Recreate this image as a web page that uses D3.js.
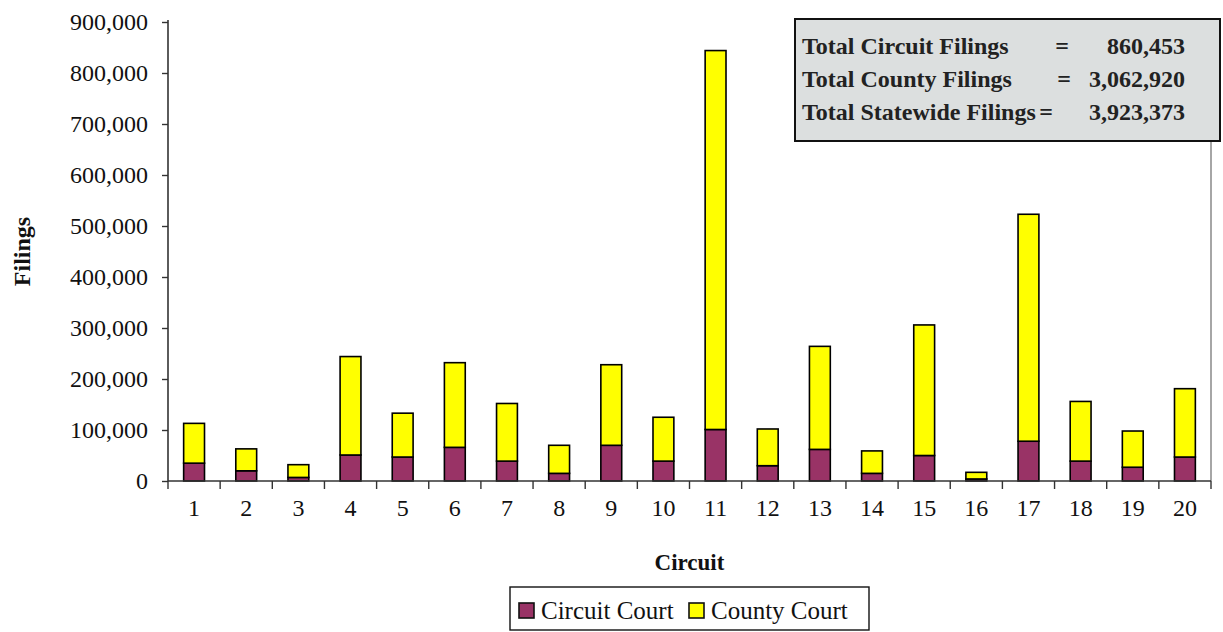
<!DOCTYPE html>
<html>
<head>
<meta charset="utf-8">
<script src="https://cdn.jsdelivr.net/npm/d3@7"></script>
<style>
  html, body { margin: 0; padding: 0; background: #fff; }
  svg { display: block; font-family: "Liberation Serif", "Times New Roman", serif; }
</style>
</head>
<body>
<div id="chart"></div>
<script>
// datos
var circuits = ['1','2','3','4','5','6','7','8','9','10','11','12','13','14','15','16','17','18','19','20'];
var circuitCourt = [35000, 20000, 7000, 51000, 47000, 66000, 39000, 15000, 70000, 39000,
                    101000, 30000, 62000, 15000, 50000, 4000, 78000, 39000, 27000, 47000];
var countyCourt = [78000, 43000, 25000, 193000, 86000, 166000, 113000, 55000, 158000, 86000,
                   743000, 72000, 202000, 44000, 256000, 13000, 445000, 117000, 71000, 134000];
var seriesNames = ['Circuit Court', 'County Court'];
var seriesColors = ['#993366', '#ffff00'];
var yTicks = [0, 100000, 200000, 300000, 400000, 500000, 600000, 700000, 800000, 900000];
var totalsLabels = ['Total Circuit Filings', 'Total County Filings', 'Total Statewide Filings'];
var totalsValues = ['860,453', '3,062,920', '3,923,373'];

var FONT = '"Liberation Serif", "Times New Roman", serif';
var W = 1223, H = 632;
var margin = {top: 22, right: 12, bottom: 151, left: 168};
var width = W - margin.left - margin.right;
var height = H - margin.top - margin.bottom;

var svg = d3.select('#chart').append('svg')
  .attr('width', W)
  .attr('height', H);

var g = svg.append('g')
  .attr('transform', 'translate(' + margin.left + ',' + margin.top + ')');

// tabla para el stack
var table = circuits.map(function(c, i) {
  return {circuit: c, 'Circuit Court': circuitCourt[i], 'County Court': countyCourt[i]};
});
var stacked = d3.stack().keys(seriesNames)(table);

var xScale = d3.scaleBand()
  .domain(circuits)
  .range([0, width])
  .padding(0);

var yScale = d3.scaleLinear()
  .domain([0, 900000])
  .range([height, 0]);

// borde del area del grafico (gris)
g.append('line')
  .attr('x1', width).attr('x2', width)
  .attr('y1', 0).attr('y2', height)
  .attr('stroke', '#a6a6a6')
  .attr('stroke-width', 2);

// barras apiladas
var barW = xScale.bandwidth() * 0.4;
g.selectAll('.serie')
  .data(stacked)
  .enter().append('g')
    .attr('class', 'serie')
    .attr('fill', function(d, i) { return seriesColors[i]; })
  .selectAll('rect')
  .data(function(d) { return d; })
  .enter().append('rect')
    .attr('x', function(d) { return xScale(d.data.circuit) + (xScale.bandwidth() - barW) / 2; })
    .attr('y', function(d) { return yScale(d[1]); })
    .attr('width', barW)
    .attr('height', function(d) { return yScale(d[0]) - yScale(d[1]); })
    .attr('stroke', '#000')
    .attr('stroke-width', 1.6);

// eje Y
var yAxis = d3.axisLeft(yScale)
  .tickValues(yTicks)
  .tickSize(6)
  .tickPadding(14)
  .tickFormat(d3.format(','));
var yAxisG = g.append('g').attr('class', 'y-axis').call(yAxis)
  .attr('font-family', FONT);
yAxisG.select('.domain').remove();
yAxisG.append('line')
  .attr('x1', 0).attr('x2', 0).attr('y1', -2).attr('y2', height)
  .attr('stroke', '#333').attr('stroke-width', 1.6);
yAxisG.selectAll('.tick line').attr('stroke', '#333').attr('stroke-width', 1.4);
yAxisG.selectAll('text')
  .attr('font-size', 24)
  .attr('fill', '#111');

// eje X, marcas en los bordes de cada categoria
var xAxisG = g.append('g')
  .attr('class', 'x-axis')
  .attr('transform', 'translate(0,' + height + ')');
xAxisG.append('line')
  .attr('x1', 0).attr('x2', width)
  .attr('stroke', '#333').attr('stroke-width', 1.6);
var edges = circuits.map(function(c) { return xScale(c); }).concat([width]);
xAxisG.selectAll('.xtick')
  .data(edges)
  .enter().append('line')
    .attr('class', 'xtick')
    .attr('x1', function(d) { return d; })
    .attr('x2', function(d) { return d; })
    .attr('y1', 0).attr('y2', 8)
    .attr('stroke', '#333').attr('stroke-width', 1.4);
xAxisG.selectAll('.xlabel')
  .data(circuits)
  .enter().append('text')
    .attr('class', 'xlabel')
    .attr('x', function(d) { return xScale(d) + xScale.bandwidth() / 2; })
    .attr('y', 35)
    .attr('text-anchor', 'middle')
    .attr('font-size', 24)
    .attr('fill', '#111')
    .text(function(d) { return d; });

// titulos de ejes
svg.append('text')
  .attr('x', margin.left + width / 2)
  .attr('y', 570)
  .attr('text-anchor', 'middle')
  .attr('font-size', 23)
  .attr('font-weight', 'bold')
  .attr('fill', '#111')
  .text('Circuit');

svg.append('text')
  .attr('transform', 'translate(30,' + (margin.top + height / 2) + ') rotate(-90)')
  .attr('text-anchor', 'middle')
  .attr('font-size', 24)
  .attr('font-weight', 'bold')
  .attr('fill', '#111')
  .text('Filings');

// caja de totales
var box = svg.append('g');
box.append('rect')
  .attr('x', 795).attr('y', 19)
  .attr('width', 425).attr('height', 122)
  .attr('fill', '#dcdfdf')
  .attr('stroke', '#111')
  .attr('stroke-width', 2);
var eqX = [1062, 1064, 1046];
totalsLabels.forEach(function(lbl, i) {
  var yy = 54 + i * 33;
  box.append('text')
    .attr('x', 802).attr('y', yy)
    .attr('font-size', 24).attr('font-weight', 'bold').attr('fill', '#222')
    .text(lbl);
  box.append('text')
    .attr('x', eqX[i]).attr('y', yy)
    .attr('text-anchor', 'middle')
    .attr('font-size', 24).attr('font-weight', 'bold').attr('fill', '#222')
    .text('=');
  box.append('text')
    .attr('x', 1185).attr('y', yy)
    .attr('text-anchor', 'end')
    .attr('font-size', 24).attr('font-weight', 'bold').attr('fill', '#222')
    .text(totalsValues[i]);
});

// leyenda
var legend = svg.append('g');
legend.append('rect')
  .attr('x', 510).attr('y', 587)
  .attr('width', 359).attr('height', 43)
  .attr('fill', '#fff')
  .attr('stroke', '#111')
  .attr('stroke-width', 1.4);
var legX = [519, 689];
seriesNames.forEach(function(name, i) {
  legend.append('rect')
    .attr('x', legX[i]).attr('y', 603)
    .attr('width', 15).attr('height', 15)
    .attr('fill', seriesColors[i])
    .attr('stroke', '#111')
    .attr('stroke-width', 1.6);
  legend.append('text')
    .attr('x', legX[i] + 22).attr('y', 619)
    .attr('font-size', 25)
    .attr('fill', '#111')
    .text(name);
});
</script>
</body>
</html>
